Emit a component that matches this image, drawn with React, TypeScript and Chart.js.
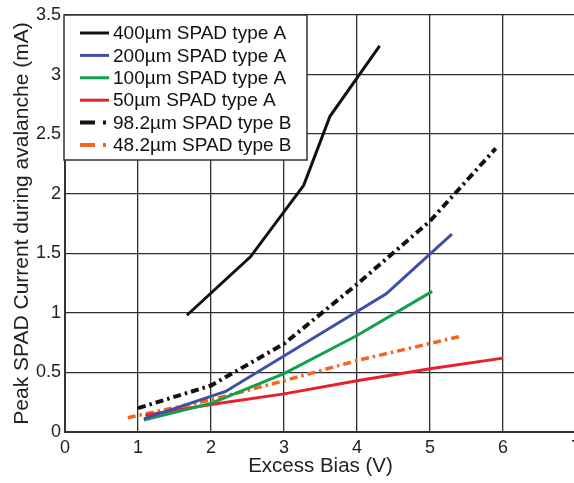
import React, { useEffect, useRef } from "react";
import { Chart, registerables } from "chart.js";

Chart.register(...registerables);

// ---- data ----
const seriesLabels = [
  "400µm SPAD type A",
  "200µm SPAD type A",
  "100µm SPAD type A",
  "50µm SPAD type A",
  "98.2µm SPAD type B",
  "48.2µm SPAD type B",
];

const x400A = [1.67, 2.54, 3.27, 3.63, 4.31];
const y400A = [0.98, 1.47, 2.07, 2.65, 3.24];

const x200A = [1.08, 2.2, 4.4, 5.3];
const y200A = [0.11, 0.34, 1.16, 1.66];

const x100A = [1.08, 2.0, 3.0, 4.0, 5.03];
const y100A = [0.1, 0.24, 0.49, 0.81, 1.18];

const x50A = [1.1, 2.0, 3.0, 4.0, 5.0, 6.0];
const y50A = [0.14, 0.23, 0.32, 0.43, 0.53, 0.62];

const x98B = [1.0, 2.0, 3.0, 4.0, 5.0, 5.9];
const y98B = [0.2, 0.39, 0.74, 1.24, 1.77, 2.38];

const x48B = [0.86, 2.0, 3.0, 4.0, 5.4];
const y48B = [0.12, 0.27, 0.43, 0.6, 0.8];

const xTickValues = [0, 1, 2, 3, 4, 5, 6, 7];
const yTickValues = [0, 0.5, 1, 1.5, 2, 2.5, 3, 3.5];

const xTitle = "Excess Bias (V)";
const yTitle = "Peak SPAD Current during avalanche (mA)";

// ---- styles ----
const FONT = "'Liberation Sans', Arial, Helvetica, sans-serif";
const colors = ["#111111", "#3f4fa6", "#12a04c", "#e8202c", "#111111", "#f26522"];
const widths = [3, 3, 3, 3, 4, 3.5];
const dashes: number[][] = [[], [], [], [], [8, 4, 2.5, 4], [8, 4, 2.5, 4]];
const legendDashes: number[][] = [[], [], [], [], [15, 8, 3, 100], [15, 8, 3, 100]];

const zip = (xs: number[], ys: number[]) => xs.map((x, i) => ({ x, y: ys[i] }));

const seriesData = [
  zip(x400A, y400A),
  zip(x200A, y200A),
  zip(x100A, y100A),
  zip(x50A, y50A),
  zip(x98B, y98B),
  zip(x48B, y48B),
];

const legendPlugin = {
  id: "insideLegend",
  afterDatasetsDraw(chart: any) {
    const { ctx, chartArea } = chart;
    const left = chartArea.left - 1;
    const top = chartArea.top;
    const w = 243;
    const h = 145;
    ctx.save();
    ctx.fillStyle = "#ffffff";
    ctx.fillRect(left, top, w, h);
    ctx.strokeStyle = "#333333";
    ctx.lineWidth = 1.5;
    ctx.strokeRect(left, top, w, h);
    ctx.font = `19px ${FONT}`;
    ctx.textBaseline = "middle";
    ctx.textAlign = "left";
    chart.data.datasets.forEach((ds: any, i: number) => {
      const y = top + 18 + i * 22.4;
      ctx.beginPath();
      ctx.strokeStyle = colors[i];
      ctx.lineWidth = i >= 4 ? 4 : 3;
      ctx.setLineDash(legendDashes[i]);
      ctx.moveTo(left + 16, y);
      ctx.lineTo(left + 45, y);
      ctx.stroke();
      ctx.setLineDash([]);
      ctx.fillStyle = "#111111";
      ctx.fillText(ds.label, left + 49, y + 1);
    });
    ctx.restore();
  },
};

export default function App() {
  const ref = useRef<HTMLCanvasElement | null>(null);

  useEffect(() => {
    if (!ref.current) return;
    const chart = new Chart(ref.current, {
      type: "line",
      data: {
        datasets: seriesData.map((d, i) => ({
          label: seriesLabels[i],
          data: d,
          borderColor: colors[i],
          backgroundColor: colors[i],
          borderWidth: widths[i],
          borderDash: dashes[i],
          pointRadius: 0,
          pointHoverRadius: 0,
          tension: 0,
          fill: false,
        })),
      },
      options: {
        responsive: false,
        animation: false,
        events: [],
        layout: { padding: { top: 15, right: 24, left: 0, bottom: 0 } },
        plugins: {
          legend: { display: false },
          tooltip: { enabled: false },
        },
        scales: {
          x: {
            type: "linear",
            min: 0,
            max: 7,
            afterFit: (s: any) => {
              s.height = 51;
            },
            afterBuildTicks: (s: any) => {
              s.ticks = xTickValues.map((v) => ({ value: v }));
            },
            ticks: {
              padding: 5,
              color: "#222222",
              font: { family: FONT, size: 18 },
              autoSkip: false,
              maxRotation: 0,
              callback: (v: any) => String(v),
            },
            grid: { color: "#2e2e2e", lineWidth: 1.3, drawTicks: false },
            border: { color: "#333333", width: 2 },
            title: {
              display: true,
              text: xTitle,
              color: "#222222",
              font: { family: FONT, size: 20.5 },
              padding: { top: 0, bottom: 4 },
            },
          },
          y: {
            type: "linear",
            min: 0,
            max: 3.5,
            afterFit: (s: any) => {
              s.width = 65;
            },
            afterBuildTicks: (s: any) => {
              s.ticks = yTickValues.map((v) => ({ value: v }));
            },
            ticks: {
              padding: 4,
              color: "#222222",
              font: { family: FONT, size: 18 },
              callback: (v: any) => String(v),
            },
            grid: { color: "#2e2e2e", lineWidth: 1.3, drawTicks: false },
            border: { color: "#333333", width: 2 },
            title: {
              display: true,
              text: yTitle,
              color: "#222222",
              font: { family: FONT, size: 21 },
              padding: { top: 10, bottom: 0 },
            },
          },
        },
      },
      plugins: [legendPlugin],
    });
    return () => chart.destroy();
  }, []);

  return (
    <div
      style={{
        position: "fixed",
        left: 0,
        top: 0,
        width: 574,
        height: 483,
        overflow: "hidden",
        background: "#ffffff",
      }}
    >
      <canvas ref={ref} width={600} height={483} style={{ display: "block", width: 600, height: 483 }} />
    </div>
  );
}
